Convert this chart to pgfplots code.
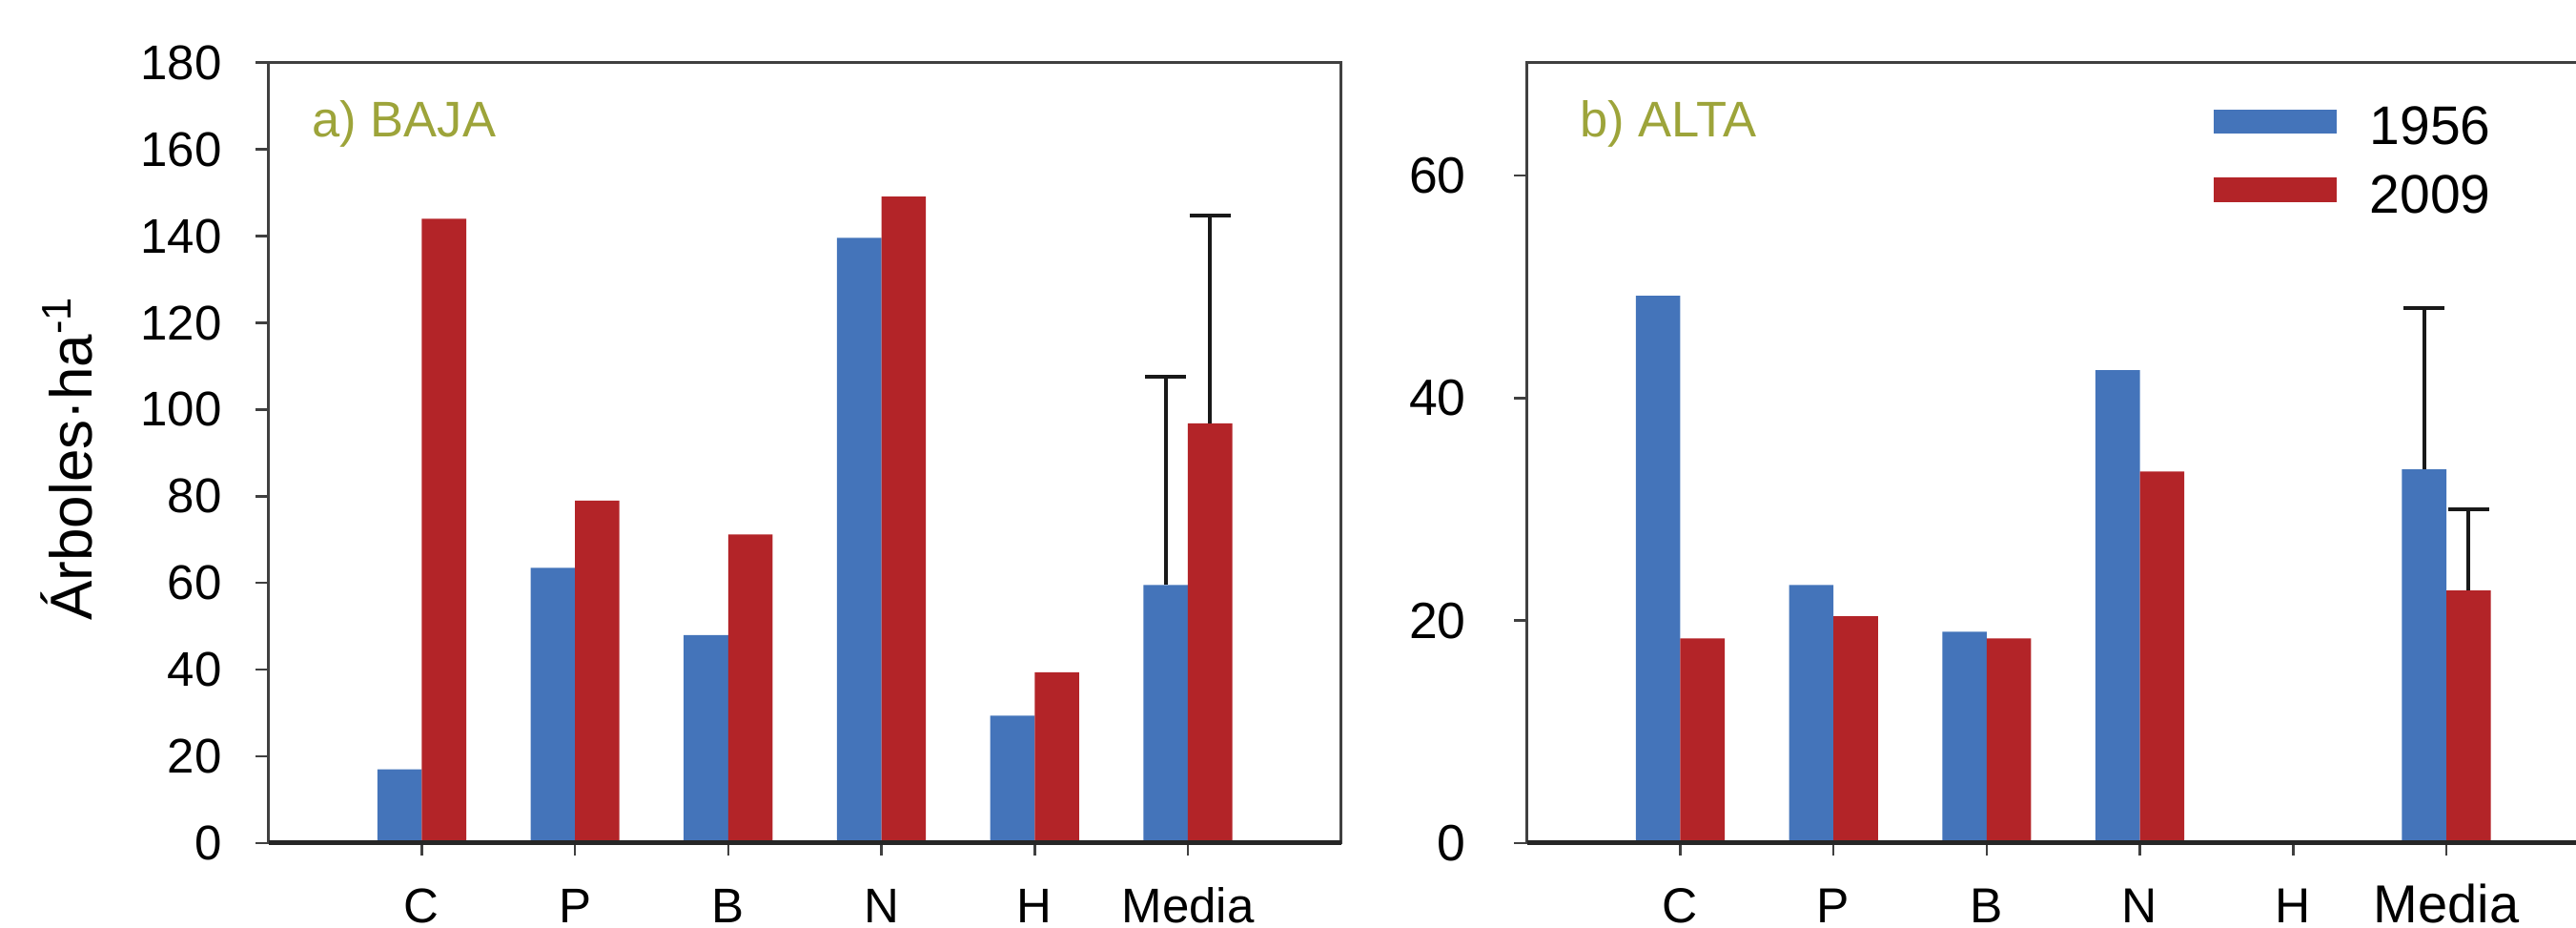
\documentclass[border=0pt]{standalone}
\usepackage{fontspec}
\setmainfont{Liberation Sans}
\usepackage{pgfplots}
\pgfplotsset{compat=1.18}
\definecolor{cblue}{HTML}{4474BA}
\definecolor{cred}{HTML}{B32428}
\definecolor{colive}{HTML}{9DA43A}
\definecolor{spine}{HTML}{404040}

\pgfplotsset{
  myleg/.style={legend image code/.code={\fill[##1] (0pt,-1.8pt) rectangle (25.8pt,3.3pt);}},
  bluebar/.style={ybar, bar width=0.29, bar shift=-0.145, fill=cblue, draw=none},
  redbar/.style={ybar, bar width=0.29, bar shift=0.145, fill=cred, draw=none},
  errst/.style={forget plot, draw=none, mark=none,
      error bars/.cd, y dir=plus, y explicit, error mark=|,
      error bar style={draw=black!90, line width=0.8pt, solid},
      error mark options={draw=black!90, line width=0.8pt, mark size=4.3pt, solid}},
  panel/.style={
    scale only axis, width=225pt, height=163.66pt,
    xmin=-1, xmax=6, ymin=0,
    xtick={0,1,2,3,4,5}, xticklabels={C,P,B,N,H,Media},
    tick align=outside, tick pos=left,
    major tick length=2.7pt,
    tick style={line width=0.5pt, color=spine},
    axis line style={line width=0.5pt, color=spine},
    /pgf/number format/assume math mode=true,
    xticklabel style={font=\fontsize{10.2}{12}\selectfont, inner sep=0pt,
        text height=7.4pt, text depth=0pt, yshift=-6.4pt},
    yticklabel style={font=\fontsize{10.2}{12}\selectfont, xshift=-3.6pt},
    after end axis/.code={\draw[line width=1pt, black!85] (rel axis cs:0,0) -- (rel axis cs:1,0);},
  },
}

\begin{document}
\begin{tikzpicture}
\useasboundingbox (-56.34pt,-17.8pt) rectangle (484.06pt,176.8pt);
\clip (-56.34pt,-17.8pt) rectangle (484.06pt,176.8pt);

% ---------- a) BAJA ----------
\begin{axis}[panel, at={(0pt,0pt)}, anchor=south west,
  ymax=180, ytick={0,20,...,180},
  ylabel={Árboles·ha\textsuperscript{-1}},
  ylabel style={at={(axis description cs:-0.165,0.284)}, anchor=base west, inner sep=0pt,
     font=\fontsize{12.4}{14}\selectfont},
]
\addplot[bluebar] coordinates {(0,17) (1,63.5) (2,48) (3,139.6) (4,29.4) (5,59.5)};
\addplot[redbar] coordinates {(0,144) (1,79) (2,71.2) (3,149.1) (4,39.4) (5,96.8)};
\addplot[errst] coordinates {(4.855,59.5) +- (0,48.1)};
\addplot[errst] coordinates {(5.145,96.8) +- (0,47.9)};
\node[anchor=base west, inner sep=0pt, text=colive, font=\fontsize{10.5}{12}\selectfont]
  at ([xshift=9pt,yshift=-15.5pt]rel axis cs:0,1) {a) BAJA};
\end{axis}

% ---------- b) ALTA ----------
\begin{axis}[panel, at={(264pt,0pt)}, anchor=south west,
  ymax=70.15, ytick={0,20,40,60},
  yticklabel style={font=\fontsize{10.7}{12}\selectfont, xshift=-3pt},
  xticklabel style={font=\fontsize{10.3}{12}\selectfont},
  xticklabels={C,P,B,N,H,{\fontsize{11.2}{13}\selectfont Media}},
  legend cell align=left,
  legend style={draw=none, fill=none, at={(0.640,0.945)}, anchor=north west,
     inner sep=0pt, outer sep=0pt, row sep=6.1pt, column sep=7pt,
     font=\fontsize{11.4}{13}\selectfont,
     nodes={inner sep=0pt, text height=8.2pt, text depth=0pt}},
]
\addplot[bluebar, myleg] coordinates {(0,49.2) (1,23.2) (2,19.0) (3,42.5) (5,33.6)};
\addplot[redbar, myleg] coordinates {(0,18.4) (1,20.4) (2,18.4) (3,33.4) (5,22.7)};
\addplot[errst] coordinates {(4.855,33.6) +- (0,14.5)};
\addplot[errst] coordinates {(5.145,22.7) +- (0,7.3)};
\legend{1956,2009}
\node[anchor=base west, inner sep=0pt, text=colive, font=\fontsize{10.5}{12}\selectfont]
  at ([xshift=11pt,yshift=-15.5pt]rel axis cs:0,1) {b) ALTA};
\end{axis}
\end{tikzpicture}
\end{document}
